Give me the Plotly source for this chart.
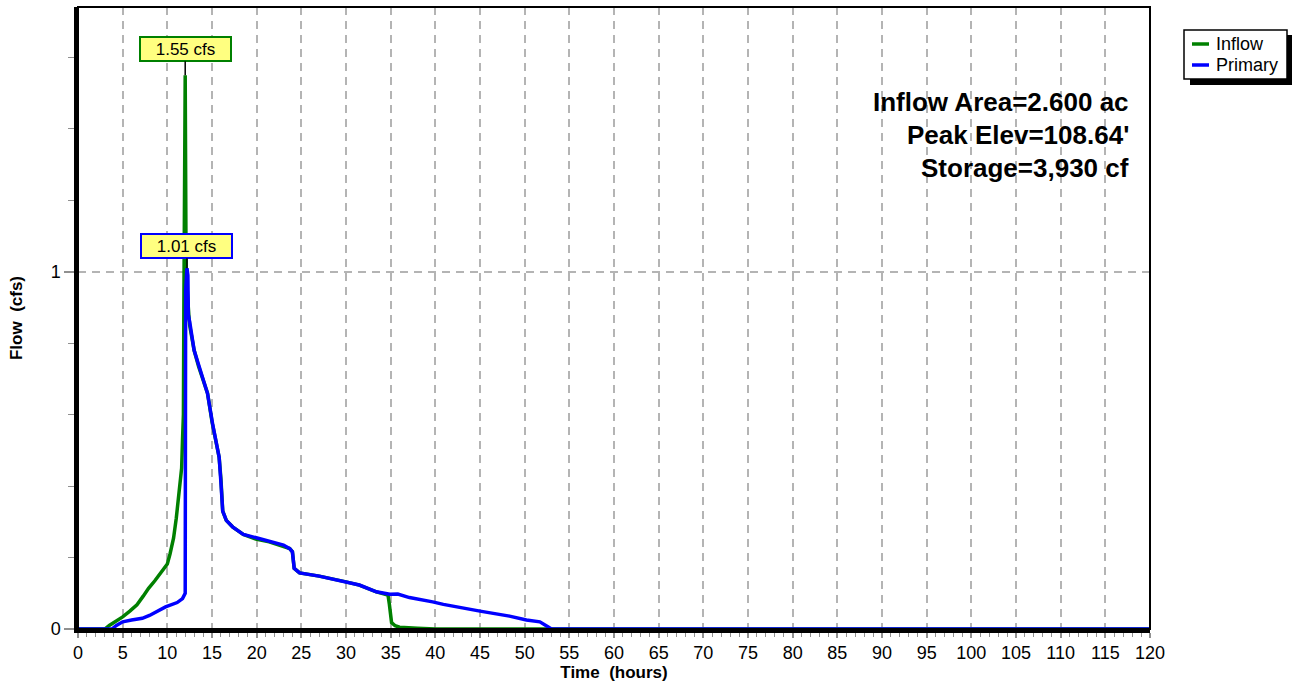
import plotly.graph_objects as go

# Hydrograph data (time in hours, flow in cfs)
inflow_time = [0, 3.0, 3.5, 4.0, 5.0, 5.8, 6.6, 7.3, 7.9, 8.6, 9.2, 9.6, 10.0, 10.3, 10.7,
               11.0, 11.4, 11.6, 11.7, 11.8, 11.85, 11.95, 12.0, 12.1, 12.2, 12.4, 12.5, 13.0,
               13.5, 14.0, 14.5, 15.0, 15.5, 15.8, 16.0, 16.2, 16.6, 17.3, 18.5, 19.9, 21.4,
               23.0, 23.7, 24.0, 24.2, 24.8, 27.0, 30.0, 31.5, 33.4, 34.7, 34.85, 35.0, 35.1,
               35.5, 36.0, 38.0, 40.0, 120.0]
inflow_cfs = [0, 0, 0.01, 0.018, 0.034, 0.05, 0.068, 0.092, 0.114, 0.135, 0.156, 0.168,
              0.182, 0.21, 0.255, 0.31, 0.395, 0.45, 0.53, 0.6, 0.9, 1.36, 1.55, 1.0, 0.95,
              0.88, 0.85, 0.78, 0.735, 0.70, 0.66, 0.58, 0.52, 0.48, 0.42, 0.33, 0.304,
              0.286, 0.265, 0.252, 0.244, 0.232, 0.225, 0.216, 0.17, 0.157, 0.148, 0.132,
              0.123, 0.104, 0.095, 0.07, 0.04, 0.018, 0.009, 0.005, 0.002, 0, 0]

primary_time = [0, 3.8, 4.3, 5.0, 6.0, 7.2, 8.0, 8.7, 9.8, 11.1, 11.7, 12.0, 12.05, 12.2,
                12.3, 12.35, 12.5, 13.0, 13.57, 14.5, 15.06, 15.8, 16.0, 16.2, 16.6, 17.3,
                18.5, 19.9, 21.4, 23.0, 23.7, 24.0, 24.2, 24.8, 27.0, 30.0, 31.5, 33.4, 34.9,
                35.8, 36.7, 37.1, 39.7, 40.9, 45.0, 48.3, 50.2, 51.7, 52.6, 53.0, 120.0]
primary_cfs = [0, 0, 0.01, 0.02, 0.025, 0.03, 0.038, 0.048, 0.062, 0.074, 0.085, 0.1, 0.95,
               1.01, 0.99, 0.88, 0.86, 0.78, 0.733, 0.659, 0.575, 0.481, 0.41, 0.33, 0.304,
               0.286, 0.265, 0.256, 0.245, 0.235, 0.225, 0.216, 0.17, 0.157, 0.148, 0.132,
               0.123, 0.104, 0.097, 0.098, 0.09, 0.088, 0.076, 0.069, 0.05, 0.036, 0.025,
               0.02, 0.006, 0, 0]

peak_labels = ["1.55 cfs", "1.01 cfs"]
peak_values = [1.55, 1.01]
peak_times = [12.0, 12.2]

info_lines = ["Inflow Area=2.600 ac", "Peak Elev=108.64'", "Storage=3,930 cf"]
series_names = ["Inflow", "Primary"]
series_colors = ["#008000", "#0000ff"]

FONT = "Liberation Sans, Arial, Helvetica, sans-serif"
W, H = 1296, 686
ML, MR, MT, MB = 78, 146, 7, 57
PW, PH = W - ML - MR, H - MT - MB


def px_x(px):
    return (px - ML) / PW


def px_y(py):
    return (H - MB - py) / PH


fig = go.Figure()
fig.add_trace(go.Scatter(x=inflow_time, y=inflow_cfs, mode="lines", name=series_names[0],
                         line=dict(color=series_colors[0], width=3.5)))
fig.add_trace(go.Scatter(x=primary_time, y=primary_cfs, mode="lines", name=series_names[1],
                         line=dict(color=series_colors[1], width=3.5)))

annotations = []
# peak labels
for label, val, t, col, ay in zip(peak_labels, peak_values, peak_times, series_colors, [-26, -22]):
    annotations.append(dict(
        x=t, y=val, xref="x", yref="y", text=label, showarrow=True,
        arrowhead=0, arrowwidth=1.5, arrowcolor="black", ax=0, ay=ay,
        bgcolor="#ffff80", bordercolor=col, borderwidth=2, borderpad=2,
        width=85, height=18, font=dict(family=FONT, size=17, color="black")))

# summary text block
for i, line in enumerate(info_lines):
    annotations.append(dict(
        x=px_x(1131), y=px_y(102.5 + 32.5 * i), xref="paper", yref="paper",
        xanchor="right", yanchor="middle", showarrow=False, text="<b>%s</b>" % line,
        font=dict(family=FONT, size=26, color="black")))

# legend entries
for i, (name, col) in enumerate(zip(series_names, series_colors)):
    yy = 44 + 21 * i
    annotations.append(dict(
        x=px_x(1214), y=px_y(yy), xref="paper", yref="paper", xanchor="left",
        yanchor="middle", showarrow=False, text=name,
        font=dict(family=FONT, size=18, color="black")))

shapes = [
    # plot frame
    dict(type="rect", xref="paper", yref="paper", x0=0, x1=1, y0=0, y1=1,
         line=dict(color="black", width=2), layer="above"),
    # legend shadow and box
    dict(type="rect", xref="paper", yref="paper", x0=px_x(1190), x1=px_x(1292),
         y0=px_y(85), y1=px_y(35), fillcolor="black", line=dict(width=0), layer="above"),
    dict(type="rect", xref="paper", yref="paper", x0=px_x(1184), x1=px_x(1287),
         y0=px_y(79), y1=px_y(30), fillcolor="white", line=dict(color="black", width=1.5),
         layer="above"),
]
for i, col in enumerate(series_colors):
    yy = 44 + 21 * i
    shapes.append(dict(type="line", xref="paper", yref="paper", x0=px_x(1192), x1=px_x(1209),
                       y0=px_y(yy), y1=px_y(yy), line=dict(color=col, width=3.5), layer="above"))

fig.update_layout(
    width=W, height=H,
    margin=dict(l=ML, r=MR, t=MT, b=MB, autoexpand=False),
    paper_bgcolor="white", plot_bgcolor="white",
    showlegend=False,
    font=dict(family=FONT, size=18, color="black"),
    annotations=annotations, shapes=shapes,
    xaxis=dict(
        range=[0, 120], tick0=0, dtick=5, showgrid=True, gridcolor="#b4b4b4",
        griddash="8px,6px", gridwidth=1.5, zeroline=False,
        showline=True, linecolor="black", linewidth=3.5,
        ticks="outside", ticklen=5, tickcolor="#909090", tickwidth=1.5,
        minor=dict(dtick=1, ticks="outside", ticklen=4, tickcolor="#909090", tickwidth=1.2,
                   showgrid=False),
        tickfont=dict(family=FONT, size=18),
        title=dict(text="<b>Time \u00a0(hours)</b>", font=dict(family=FONT, size=17), standoff=4),
        automargin=False,
    ),
    yaxis=dict(
        range=[0, PH / 357.3], tick0=0, dtick=1, showgrid=True, gridcolor="#b4b4b4",
        griddash="8px,6px", gridwidth=1.5, zeroline=False,
        showline=True, linecolor="black", linewidth=3.5,
        ticks="outside", ticklen=10, tickcolor="#909090", tickwidth=1.5,
        minor=dict(dtick=0.2, ticks="outside", ticklen=6, tickcolor="#909090", tickwidth=1.2,
                   showgrid=False),
        tickfont=dict(family=FONT, size=18),
        title=dict(text="<b>Flow \u00a0(cfs)</b>", font=dict(family=FONT, size=17), standoff=25),
        automargin=False,
    ),
)

fig.write_html("out.html")
